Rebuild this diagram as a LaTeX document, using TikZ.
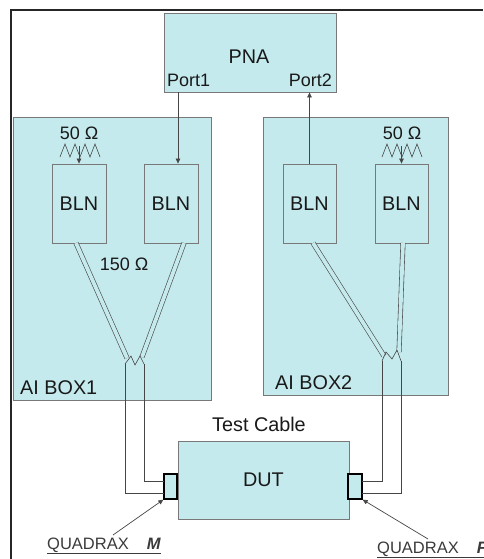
\documentclass[tikz,border=0pt]{standalone}
\usepackage{fontspec}
\setmainfont{Liberation Sans}
\usetikzlibrary{arrows.meta}
\definecolor{boxfill}{RGB}{197,234,237}
\definecolor{boxedge}{RGB}{120,120,120}
\definecolor{wirec}{RGB}{70,70,70}
\definecolor{txt}{RGB}{25,25,25}
\tikzset{
  box/.style={draw=boxedge, fill=boxfill, line width=0.8pt, inner sep=0pt, text=txt},
  conn/.style={draw=black, fill=boxfill, line width=1.3pt, inner sep=0pt},
  lbl/.style={font=\fontsize{18}{20}\selectfont, inner sep=0pt, text=txt},
  big/.style={font=\fontsize{19.8}{22}\selectfont, inner sep=0pt, text=txt},
  qlbl/.style={font=\fontsize{16.5}{18}\selectfont, inner sep=0pt, text=txt!85},
  wire/.style={draw=wirec, line width=0.7pt},
  pair/.style={draw=wirec, line width=0.6pt, double=boxfill, double distance=3.8pt},
  tip/.style={-{Triangle[length=5pt,width=4.5pt]}}
}
\begin{document}
\begin{tikzpicture}[x=1pt,y=-1pt]
\useasboundingbox (0,0) rectangle (483,559);
\fill[white] (0,0) rectangle (483,559);
% frame
\draw[line width=1.3pt, black!85] (11,559) -- (11,10) -- (483,10);
% PNA
\node[box, minimum width=172pt, minimum height=79pt] (pna) at (250,52.5) {};
\node[big] (pnat) at (249,57) {PNA};
\node[lbl, anchor=base west] (port1) at (167,87) {Port1};
\node[lbl, anchor=base east] (port2) at (332,87) {Port2};
% AI boxes
\node[box, minimum width=198pt, minimum height=283pt] (ai1) at (112,258.5) {};
\node[box, minimum width=185pt, minimum height=278pt] (ai2) at (355.5,256) {};
\node[big, anchor=base west] (ai1t) at (20,394) {AI BOX1};
\node[big, anchor=base west] (ai2t) at (275,389) {AI BOX2};
% BLN boxes
\node[box, big, minimum width=54pt, minimum height=79pt] (l1) at (79,203.5) {BLN};
\node[box, big, minimum width=54pt, minimum height=79pt] (r1) at (171,203.5) {BLN};
\node[box, big, minimum width=53pt, minimum height=79pt] (l2) at (309.5,203.5) {BLN};
\node[box, big, minimum width=53pt, minimum height=79pt] (r2) at (401.5,203.5) {BLN};
% Port connections
\coordinate (p1) at (178,0);
\coordinate (p2) at (309.5,0);
\draw[wire, tip] (pna.south -| p1) -- (r1.north -| p1);
\draw[wire, tip] (l2.north -| p2) -- (pna.south -| p2);
% 50 ohm terminations
\node[lbl] (o50a) at (79,133) {50 Ω};
\node[lbl] (o50b) at (402,133) {50 Ω};
\draw[wire, line width=0.6pt] (60,157) -- (65,144) -- (70,157) -- (75,144) -- (80,157) -- (85,144) -- (90,157) -- (95,144) -- (100,157);
\draw[wire, line width=0.6pt] (382,157) -- (387,144) -- (392,157) -- (397,144) -- (402,157) -- (407,144) -- (412,157) -- (417,144) -- (422,157);
\coordinate (ta) at (79,146);
\coordinate (tb) at (401.5,146);
\draw[wire, tip] (ta) -- (l1.north);
\draw[wire, tip] (tb) -- (r2.north);
% 150 ohm
\node[lbl] (o150) at (124,264) {150 Ω};
% twin lines box1
\coordinate (a1s) at (76,243);
\coordinate (a1e) at (127,358);
\coordinate (b1s) at (184,243);
\coordinate (b1e) at (142,357);
\draw[pair] (a1s) -- (a1e);
\draw[pair] (b1s) -- (b1e);
\coordinate (v1) at (125,364);
\coordinate (w1) at (144,364);
\draw[wire, line width=0.6pt] (v1) -- (131,356) -- (135,365) -- (140,356) -- (w1);
% twin lines box2
\coordinate (a2s) at (313,243);
\coordinate (a2e) at (384,356);
\coordinate (b2s) at (403,243);
\coordinate (b2e) at (399,352);
\draw[pair] (a2s) -- (a2e);
\draw[pair] (b2s) -- (b2e);
\coordinate (v2) at (382,361);
\coordinate (w2) at (401,361);
\draw[wire, line width=0.6pt] (v2) -- (386,352) -- (392,359) -- (397,350) -- (w2);
% DUT
\node[big] (tc) at (259,424) {Test Cable};
\node[box, big, minimum width=171pt, minimum height=78pt] (dut) at (263.5,480) {DUT};
\node[conn, minimum width=13pt, minimum height=25pt] (cl) at (170.5,486.5) {};
\node[conn, minimum width=14pt, minimum height=25pt] (cr) at (355,486.5) {};
% cables to connectors
\coordinate (h1) at (164,493);
\coordinate (k1) at (164,481);
\coordinate (h2) at (362,493);
\coordinate (k2) at (362,481);
\draw[wire] (v1) |- (h1);
\draw[wire] (w1) |- (k1);
\draw[wire] (w2) |- (h2);
\draw[wire] (v2) |- (k2);
% QUADRAX labels
\node[qlbl, anchor=base west] (qm) at (47,549) {\underline{QUADRAX\hspace{18pt}\textbf{\textit{M}}}};
\node[qlbl, anchor=base west] (qf) at (377,553) {\underline{QUADRAX\hspace{18pt}\textbf{\textit{F}}}};
\coordinate (qma) at (113,535);
\coordinate (qfa) at (428,539);
\draw[wire, tip] (qma) -- (cl.south west);
\draw[wire, tip] (qfa) -- (cr.south east);
\end{tikzpicture}
\end{document}
